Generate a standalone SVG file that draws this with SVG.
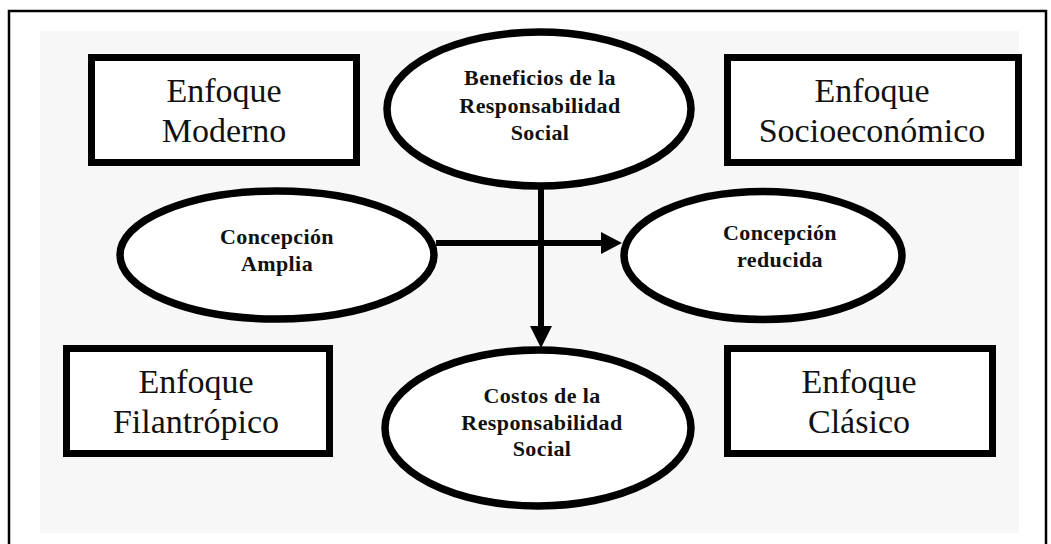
<svg xmlns="http://www.w3.org/2000/svg" width="1051" height="544" viewBox="0 0 1051 544">
<style>
.box{fill:#ffffff;stroke:#000;stroke-width:7}
.ell{fill:#ffffff;stroke:#000;stroke-width:7.5}
.bt{font-family:"Liberation Serif","Times New Roman",serif;font-size:34px;fill:#111;text-anchor:middle}
.et{font-family:"Liberation Serif","Times New Roman",serif;font-size:22px;font-weight:bold;fill:#111;text-anchor:middle;letter-spacing:0.4px}
.conn{stroke:#000;stroke-width:6;fill:none}
</style>
<rect x="0" y="0" width="1051" height="544" fill="#ffffff"/>
<rect x="9" y="11" width="1037" height="560" fill="none" stroke="#000" stroke-width="2.5"/>
<rect x="40" y="31" width="979" height="502" fill="#f7f7f7"/>
<g id="connectors">
<line class="conn" x1="541" y1="188" x2="541" y2="328"/>
<polygon points="530,326 552,326 541,348" fill="#000"/>
<line class="conn" x1="436" y1="243" x2="603" y2="243"/>
<polygon points="601,232 601,254 622,243" fill="#000"/>
</g>
<g id="enfoque-moderno">
<rect class="box" x="91.5" y="57.5" width="265" height="105"/>
<text class="bt" x="224" y="102">Enfoque</text>
<text class="bt" x="224" y="142">Moderno</text>
</g>
<g id="enfoque-socioeconomico">
<rect class="box" x="727.5" y="57.5" width="291" height="105"/>
<text class="bt" x="872" y="102">Enfoque</text>
<text class="bt" x="872" y="142">Socioeconómico</text>
</g>
<g id="enfoque-filantropico">
<rect class="box" x="66.5" y="348.5" width="263" height="105"/>
<text class="bt" x="196" y="393">Enfoque</text>
<text class="bt" x="196" y="433">Filantrópico</text>
</g>
<g id="enfoque-clasico">
<rect class="box" x="727.5" y="348.5" width="265" height="105"/>
<text class="bt" x="859" y="393">Enfoque</text>
<text class="bt" x="859" y="433">Clásico</text>
</g>
<g id="beneficios">
<ellipse class="ell" cx="539" cy="109" rx="152" ry="77"/>
<text class="et" x="540" y="85">Beneficios de la</text>
<text class="et" x="540" y="113">Responsabilidad</text>
<text class="et" x="540" y="140">Social</text>
</g>
<g id="concepcion-amplia">
<ellipse class="ell" cx="277" cy="255" rx="157" ry="64"/>
<text class="et" x="277" y="244">Concepción</text>
<text class="et" x="277" y="271">Amplia</text>
</g>
<g id="concepcion-reducida">
<ellipse class="ell" cx="763" cy="255.5" rx="139" ry="64"/>
<text class="et" x="780" y="240">Concepción</text>
<text class="et" x="780" y="267">reducida</text>
</g>
<g id="costos">
<ellipse class="ell" cx="538" cy="428" rx="153" ry="78"/>
<text class="et" x="542" y="403">Costos de la</text>
<text class="et" x="542" y="430">Responsabilidad</text>
<text class="et" x="542" y="456">Social</text>
</g>
</svg>
